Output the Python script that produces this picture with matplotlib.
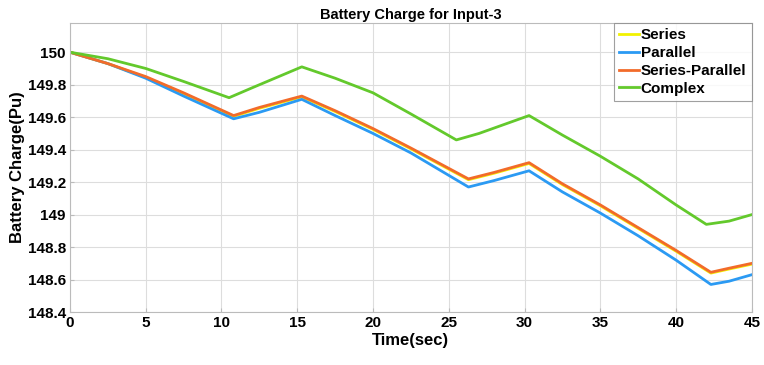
import matplotlib.pyplot as plt
import numpy as np

plt.rcParams['font.family'] = ['Liberation Sans', 'DejaVu Sans']
plt.rcParams['font.weight'] = 'bold'

# battery charge readings (Pu) against time (sec)
t_complex = [0, 2.5, 5, 7.5, 10.5, 12, 15.3, 17.5, 20, 22.5, 25.5, 27, 30.3, 32.5, 35, 37.5, 40, 42, 43.5, 45]
complex_charge = [150, 149.96, 149.90, 149.82, 149.72, 149.78, 149.91, 149.84, 149.75, 149.62, 149.46, 149.50,
                  149.61, 149.49, 149.36, 149.22, 149.06, 148.94, 148.96, 149.00]

t_other = [0, 2.5, 5, 7.5, 10.8, 12.5, 15.3, 17.5, 20, 22.5, 26.3, 28, 30.3, 32.5, 35, 37.5, 40, 42.3, 43.5, 45]
parallel_charge = [150, 149.93, 149.84, 149.73, 149.59, 149.63, 149.71, 149.61, 149.50, 149.38, 149.17, 149.21,
                   149.27, 149.14, 149.01, 148.87, 148.72, 148.57, 148.59, 148.63]
sp_charge = [150, 149.93, 149.85, 149.75, 149.61, 149.66, 149.73, 149.64, 149.53, 149.41, 149.22, 149.26,
             149.32, 149.19, 149.06, 148.92, 148.78, 148.645, 148.67, 148.70]
series_charge = [150, 149.93, 149.845, 149.745, 149.605, 149.655, 149.725, 149.635, 149.525, 149.405, 149.215, 149.255,
                 149.315, 149.185, 149.055, 148.915, 148.775, 148.64, 148.665, 148.695]

fig = plt.figure(figsize=(7.64, 3.65), dpi=100)
ax = fig.add_axes([0.0916, 0.145, 0.8924, 0.792])

lw = 2.0
ax.plot(t_other, series_charge, color='#f2f200', lw=lw, label='Series')
ax.plot(t_other, parallel_charge, color='#2b9af3', lw=lw, label='Parallel')
ax.plot(t_other, sp_charge, color='#f26b2a', lw=lw, label='Series-Parallel')
ax.plot(t_complex, complex_charge, color='#63c92c', lw=lw, label='Complex')

ax.set_xlim(0, 45)
ax.set_ylim(148.4, 150.18)
ax.set_xticks(np.arange(0, 46, 5))
ax.set_yticks([148.4, 148.6, 148.8, 149, 149.2, 149.4, 149.6, 149.8, 150])
ax.set_yticklabels(['148.4', '148.6', '148.8', '149', '149.2', '149.4', '149.6', '149.8', '150'])
ax.tick_params(labelsize=11, length=3, color='#bbbbbb', direction='in', pad=3)
ax.grid(True, color='#dddddd', lw=0.8)
for s in ax.spines.values():
    s.set_color('#bbbbbb')

ax.set_xlabel('Time(sec)', fontsize=12, fontweight='bold', labelpad=2)
ax.set_ylabel('Battery Charge(Pu)', fontsize=12, fontweight='bold', labelpad=2)
ax.set_title('Battery Charge for Input-3', fontsize=10.5, fontweight='bold', pad=3)

leg = ax.legend(loc='upper right', fontsize=11, frameon=True, fancybox=False,
                borderaxespad=0.0, handlelength=1.3, handletextpad=0.1,
                labelspacing=0.25, borderpad=0.35)
leg.get_frame().set_edgecolor('#888888')
leg.get_frame().set_linewidth(0.8)

fig.savefig('out.png', dpi=100)
